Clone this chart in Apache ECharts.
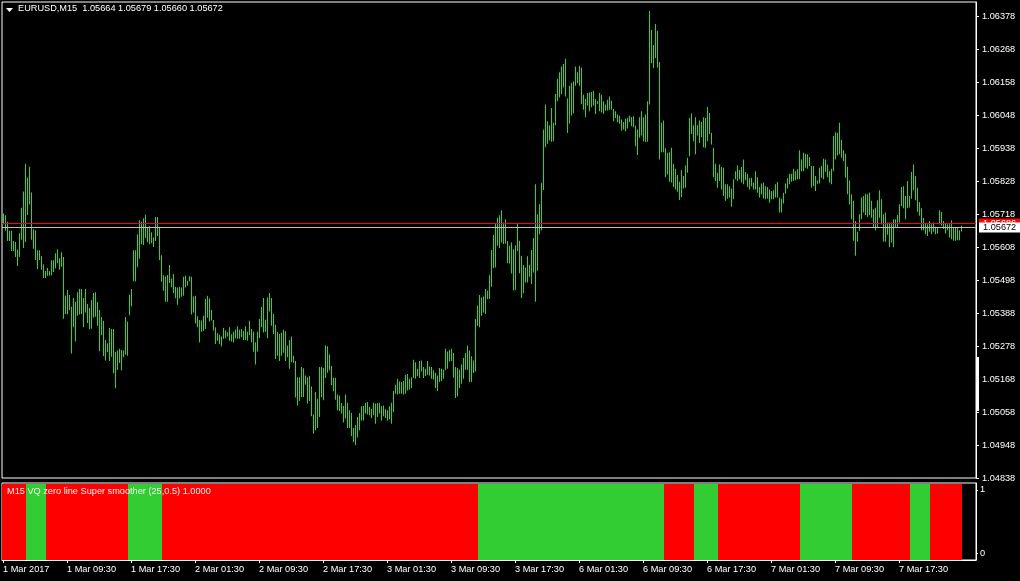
<!DOCTYPE html>
<html>
<head>
<meta charset="utf-8">
<title>EURUSD,M15</title>
<script src="https://cdn.jsdelivr.net/npm/echarts@6/dist/echarts.min.js"></script>
<style>
  html, body { margin: 0; padding: 0; background: #000; }
  #chart { width: 1020px; height: 581px; }
</style>
</head>
<body>
<div id="chart"></div>
<script>
// EURUSD M15 bars, 1 Mar 2017 01:30 onwards (high / low of each bar)
const highs = [
  1.05720, 1.05714, 1.05692, 1.05662, 1.05662, 1.05628, 1.05625, 1.05599, 1.05654, 1.05739,
  1.05793, 1.05886, 1.05840, 1.05876, 1.05790, 1.05667, 1.05664, 1.05597, 1.05597, 1.05577,
  1.05551, 1.05528, 1.05538, 1.05528, 1.05564, 1.05564, 1.05587, 1.05601, 1.05571, 1.05591,
  1.05575, 1.05446, 1.05465, 1.05449, 1.05409, 1.05438, 1.05426, 1.05457, 1.05468, 1.05468,
  1.05438, 1.05468, 1.05418, 1.05405, 1.05431, 1.05455, 1.05457, 1.05425, 1.05398, 1.05375,
  1.05362, 1.05298, 1.05287, 1.05338, 1.05335, 1.05335, 1.05259, 1.05263, 1.05269, 1.05265,
  1.05263, 1.05375, 1.05360, 1.05449, 1.05468, 1.05597, 1.05597, 1.05651, 1.05697, 1.05692,
  1.05704, 1.05716, 1.05672, 1.05677, 1.05657, 1.05640, 1.05708, 1.05708, 1.05676, 1.05581,
  1.05514, 1.05510, 1.05515, 1.05548, 1.05503, 1.05518, 1.05476, 1.05473, 1.05476, 1.05473,
  1.05509, 1.05512, 1.05496, 1.05511, 1.05509, 1.05443, 1.05446, 1.05377, 1.05365, 1.05363,
  1.05379, 1.05435, 1.05446, 1.05437, 1.05398, 1.05365, 1.05341, 1.05321, 1.05316, 1.05310,
  1.05338, 1.05330, 1.05324, 1.05341, 1.05317, 1.05326, 1.05333, 1.05344, 1.05332, 1.05335,
  1.05328, 1.05344, 1.05326, 1.05362, 1.05335, 1.05326, 1.05291, 1.05326, 1.05368, 1.05408,
  1.05438, 1.05366, 1.05440, 1.05455, 1.05438, 1.05385, 1.05349, 1.05326, 1.05318, 1.05322,
  1.05332, 1.05327, 1.05280, 1.05298, 1.05310, 1.05246, 1.05228, 1.05174, 1.05174, 1.05208,
  1.05204, 1.05180, 1.05174, 1.05178, 1.05143, 1.05050, 1.05125, 1.05102, 1.05208, 1.05208,
  1.05205, 1.05280, 1.05277, 1.05250, 1.05211, 1.05172, 1.05172, 1.05116, 1.05113, 1.05088,
  1.05078, 1.05116, 1.05089, 1.05064, 1.05055, 1.05005, 1.05014, 1.05041, 1.05055, 1.05077,
  1.05078, 1.05089, 1.05091, 1.05075, 1.05069, 1.05089, 1.05086, 1.05088, 1.05089, 1.05077,
  1.05080, 1.05067, 1.05064, 1.05077, 1.05089, 1.05128, 1.05149, 1.05169, 1.05160, 1.05158,
  1.05161, 1.05182, 1.05185, 1.05169, 1.05174, 1.05232, 1.05224, 1.05202, 1.05228, 1.05230,
  1.05208, 1.05202, 1.05228, 1.05210, 1.05208, 1.05197, 1.05189, 1.05180, 1.05205, 1.05202,
  1.05200, 1.05269, 1.05260, 1.05265, 1.05269, 1.05255, 1.05208, 1.05205, 1.05199, 1.05216,
  1.05238, 1.05255, 1.05280, 1.05263, 1.05244, 1.05230, 1.05368, 1.05412, 1.05448, 1.05440,
  1.05443, 1.05468, 1.05462, 1.05514, 1.05598, 1.05648, 1.05687, 1.05706, 1.05714, 1.05731,
  1.05690, 1.05701, 1.05628, 1.05612, 1.05623, 1.05601, 1.05614, 1.05687, 1.05629, 1.05579,
  1.05548, 1.05540, 1.05577, 1.05549, 1.05598, 1.05638, 1.05817, 1.05717, 1.05751, 1.05822,
  1.06000, 1.06083, 1.06027, 1.06014, 1.06072, 1.06022, 1.06118, 1.06169, 1.06191, 1.06210,
  1.06218, 1.06236, 1.06103, 1.06146, 1.06155, 1.06160, 1.06210, 1.06191, 1.06212, 1.06207,
  1.06116, 1.06102, 1.06122, 1.06124, 1.06125, 1.06129, 1.06102, 1.06094, 1.06122, 1.06116,
  1.06094, 1.06083, 1.06099, 1.06110, 1.06096, 1.06068, 1.06061, 1.06050, 1.06046, 1.06033,
  1.06025, 1.06036, 1.06038, 1.06046, 1.06041, 1.06044, 1.06013, 1.06000, 1.06041, 1.06061,
  1.06041, 1.06050, 1.06094, 1.06395, 1.06332, 1.06282, 1.06352, 1.06329, 1.06225, 1.06022,
  1.06030, 1.05937, 1.05922, 1.05924, 1.05939, 1.05886, 1.05869, 1.05848, 1.05826, 1.05865,
  1.05845, 1.05880, 1.05906, 1.06038, 1.06053, 1.06014, 1.06041, 1.06014, 1.06030, 1.06025,
  1.06041, 1.06038, 1.06075, 1.06055, 1.05989, 1.05939, 1.05886, 1.05856, 1.05883, 1.05875,
  1.05872, 1.05817, 1.05817, 1.05811, 1.05803, 1.05834, 1.05861, 1.05880, 1.05865, 1.05875,
  1.05900, 1.05858, 1.05852, 1.05837, 1.05839, 1.05823, 1.05861, 1.05841, 1.05808, 1.05820,
  1.05823, 1.05811, 1.05808, 1.05800, 1.05795, 1.05797, 1.05817, 1.05825, 1.05773, 1.05769,
  1.05789, 1.05820, 1.05837, 1.05852, 1.05852, 1.05869, 1.05861, 1.05867, 1.05931, 1.05900,
  1.05922, 1.05919, 1.05917, 1.05908, 1.05878, 1.05878, 1.05845, 1.05830, 1.05872, 1.05878,
  1.05902, 1.05900, 1.05883, 1.05861, 1.05869, 1.05978, 1.05991, 1.05989, 1.06022, 1.05966,
  1.05931, 1.05919, 1.05876, 1.05830, 1.05784, 1.05762, 1.05695, 1.05659, 1.05717, 1.05773,
  1.05778, 1.05786, 1.05784, 1.05789, 1.05762, 1.05734, 1.05739, 1.05764, 1.05797, 1.05767,
  1.05717, 1.05723, 1.05690, 1.05690, 1.05690, 1.05701, 1.05701, 1.05715, 1.05751, 1.05808,
  1.05811, 1.05778, 1.05828, 1.05778, 1.05858, 1.05883, 1.05845, 1.05806, 1.05758, 1.05737,
  1.05706, 1.05687, 1.05684, 1.05695, 1.05684, 1.05690, 1.05676, 1.05675, 1.05731, 1.05725,
  1.05695, 1.05686, 1.05684, 1.05684, 1.05697, 1.05675, 1.05675, 1.05673, 1.05664, 1.05679
];
const lows = [
  1.05684, 1.05662, 1.05628, 1.05628, 1.05595, 1.05595, 1.05575, 1.05545, 1.05575, 1.05632,
  1.05605, 1.05625, 1.05715, 1.05750, 1.05632, 1.05602, 1.05565, 1.05535, 1.05565, 1.05532,
  1.05505, 1.05505, 1.05512, 1.05512, 1.05514, 1.05525, 1.05537, 1.05554, 1.05532, 1.05542,
  1.05369, 1.05385, 1.05383, 1.05398, 1.05253, 1.05341, 1.05293, 1.05379, 1.05383, 1.05385,
  1.05341, 1.05390, 1.05355, 1.05334, 1.05336, 1.05372, 1.05376, 1.05346, 1.05261, 1.05314,
  1.05245, 1.05230, 1.05257, 1.05228, 1.05242, 1.05187, 1.05137, 1.05198, 1.05221, 1.05197,
  1.05241, 1.05249, 1.05246, 1.05381, 1.05411, 1.05494, 1.05493, 1.05541, 1.05569, 1.05617,
  1.05615, 1.05638, 1.05624, 1.05617, 1.05621, 1.05608, 1.05628, 1.05645, 1.05565, 1.05492,
  1.05462, 1.05426, 1.05426, 1.05488, 1.05474, 1.05455, 1.05437, 1.05416, 1.05437, 1.05442,
  1.05446, 1.05473, 1.05479, 1.05493, 1.05383, 1.05390, 1.05353, 1.05341, 1.05290, 1.05326,
  1.05328, 1.05335, 1.05372, 1.05360, 1.05363, 1.05330, 1.05285, 1.05296, 1.05285, 1.05277,
  1.05302, 1.05304, 1.05310, 1.05296, 1.05293, 1.05290, 1.05304, 1.05302, 1.05302, 1.05307,
  1.05298, 1.05298, 1.05296, 1.05315, 1.05291, 1.05259, 1.05216, 1.05260, 1.05305, 1.05341,
  1.05323, 1.05326, 1.05304, 1.05393, 1.05346, 1.05318, 1.05235, 1.05246, 1.05228, 1.05246,
  1.05256, 1.05228, 1.05241, 1.05202, 1.05224, 1.05222, 1.05106, 1.05080, 1.05095, 1.05108,
  1.05108, 1.05149, 1.05086, 1.05095, 1.05044, 1.04986, 1.04997, 1.05005, 1.05041, 1.05108,
  1.05097, 1.05171, 1.05189, 1.05197, 1.05147, 1.05127, 1.05099, 1.05064, 1.05061, 1.05053,
  1.05023, 1.05036, 1.05005, 1.05005, 1.04978, 1.04958, 1.04947, 1.04973, 1.04997, 1.05030,
  1.05030, 1.05053, 1.05050, 1.05047, 1.05038, 1.05047, 1.05019, 1.05041, 1.05053, 1.05030,
  1.05044, 1.05038, 1.05030, 1.05034, 1.05019, 1.05058, 1.05119, 1.05116, 1.05119, 1.05119,
  1.05116, 1.05119, 1.05130, 1.05133, 1.05138, 1.05171, 1.05169, 1.05177, 1.05171, 1.05193,
  1.05171, 1.05178, 1.05182, 1.05180, 1.05169, 1.05166, 1.05138, 1.05128, 1.05158, 1.05161,
  1.05169, 1.05197, 1.05202, 1.05226, 1.05228, 1.05172, 1.05105, 1.05110, 1.05138, 1.05152,
  1.05169, 1.05199, 1.05199, 1.05158, 1.05158, 1.05188, 1.05193, 1.05346, 1.05341, 1.05379,
  1.05390, 1.05385, 1.05435, 1.05435, 1.05476, 1.05538, 1.05540, 1.05612, 1.05604, 1.05623,
  1.05618, 1.05620, 1.05554, 1.05553, 1.05520, 1.05463, 1.05465, 1.05595, 1.05521, 1.05438,
  1.05454, 1.05490, 1.05490, 1.05509, 1.05485, 1.05523, 1.05426, 1.05529, 1.05651, 1.05664,
  1.05798, 1.05941, 1.05952, 1.05963, 1.05959, 1.05961, 1.06014, 1.06094, 1.06107, 1.06118,
  1.06140, 1.06110, 1.05988, 1.06020, 1.06047, 1.06053, 1.06146, 1.06155, 1.06146, 1.06085,
  1.06066, 1.06041, 1.06080, 1.06061, 1.06074, 1.06080, 1.06052, 1.06085, 1.06061, 1.06057,
  1.06052, 1.06063, 1.06063, 1.06066, 1.06066, 1.06027, 1.06038, 1.06024, 1.06019, 1.05996,
  1.06000, 1.05994, 1.06003, 1.06025, 1.06011, 1.06007, 1.05944, 1.05915, 1.05972, 1.05980,
  1.05961, 1.05958, 1.05959, 1.06083, 1.06221, 1.06205, 1.06238, 1.06207, 1.05900, 1.05924,
  1.05924, 1.05841, 1.05850, 1.05826, 1.05823, 1.05808, 1.05800, 1.05792, 1.05765, 1.05775,
  1.05803, 1.05806, 1.05856, 1.05911, 1.05985, 1.05961, 1.05917, 1.05980, 1.05955, 1.05974,
  1.05941, 1.05939, 1.05961, 1.05985, 1.05950, 1.05841, 1.05828, 1.05806, 1.05828, 1.05800,
  1.05778, 1.05762, 1.05769, 1.05773, 1.05742, 1.05767, 1.05834, 1.05828, 1.05834, 1.05823,
  1.05817, 1.05831, 1.05808, 1.05800, 1.05811, 1.05800, 1.05800, 1.05789, 1.05773, 1.05784,
  1.05770, 1.05767, 1.05770, 1.05756, 1.05767, 1.05767, 1.05773, 1.05773, 1.05723, 1.05723,
  1.05753, 1.05786, 1.05803, 1.05817, 1.05826, 1.05828, 1.05831, 1.05834, 1.05834, 1.05861,
  1.05861, 1.05872, 1.05869, 1.05878, 1.05806, 1.05811, 1.05795, 1.05819, 1.05820, 1.05839,
  1.05834, 1.05859, 1.05841, 1.05823, 1.05817, 1.05861, 1.05900, 1.05913, 1.05917, 1.05906,
  1.05894, 1.05839, 1.05784, 1.05751, 1.05701, 1.05629, 1.05579, 1.05626, 1.05662, 1.05701,
  1.05723, 1.05715, 1.05708, 1.05714, 1.05706, 1.05675, 1.05664, 1.05675, 1.05706, 1.05684,
  1.05626, 1.05626, 1.05649, 1.05607, 1.05623, 1.05607, 1.05673, 1.05673, 1.05690, 1.05745,
  1.05737, 1.05701, 1.05737, 1.05740, 1.05769, 1.05797, 1.05764, 1.05726, 1.05712, 1.05664,
  1.05664, 1.05651, 1.05645, 1.05659, 1.05651, 1.05659, 1.05651, 1.05653, 1.05684, 1.05679,
  1.05668, 1.05653, 1.05664, 1.05640, 1.05634, 1.05629, 1.05629, 1.05631, 1.05631, 1.05660
];

// last bar O H L C shown in the header, bid / ask lines
const lastOHLC = [1.05664, 1.05679, 1.05660, 1.05672];
const bidPrice = 1.05672;
const askPrice = 1.05686;

// price scale
const priceMin = 1.04838;
const priceMax = 1.06425;
const priceTicks = [
  1.04838, 1.04948, 1.05058, 1.05168, 1.05278, 1.05388, 1.05498, 1.05608,
  1.05718, 1.05828, 1.05938, 1.06048, 1.06158, 1.06268, 1.06378
];

// time axis: one label every 32 bars (8 hours)
const barsPerLabel = 32;
const timeLabels = [
  '1 Mar 2017', '1 Mar 09:30', '1 Mar 17:30', '2 Mar 01:30', '2 Mar 09:30',
  '2 Mar 17:30', '3 Mar 01:30', '3 Mar 09:30', '3 Mar 17:30', '6 Mar 01:30',
  '6 Mar 09:30', '6 Mar 17:30', '7 Mar 01:30', '7 Mar 09:30', '7 Mar 17:30'
];
const shiftBars = 7; // empty slots right of the last bar

// VQ zero line indicator: run lengths of bars, 1 = up (green), 0 = down (red)
const vqRunLen = [12, 10, 41, 17, 158, 93, 15, 12, 41, 26, 29, 10, 16];
const vqRunUp = [0, 1, 0, 1, 0, 1, 0, 1, 0, 1, 0, 1, 0];
const vqTicks = [0, 1];

const white = '#ffffff';
const barColor = '#22dd22';
const upColor = '#32cd32';
const downColor = '#ff0000';
const font = 'Liberation Sans';
const fontSize = 9.2;
// ask line first, bid line drawn over it
const priceLineColors = ['#ff0000', '#c0c0c0'];
const priceTagColors = ['#ff0000', white];
const priceTagText = [white, '#000000'];

const slots = Array.from({ length: highs.length + shiftBars }, (_, i) => i);
const barData = highs.map((h, i) => [i, h, lows[i]]);
const vqData = [];
vqRunLen.forEach((n, k) => {
  for (let j = 0; j < n; j++) vqData.push([vqData.length, vqRunUp[k]]);
});

const showTime = (i) => i % barsPerLabel === 0 && i / barsPerLabel < timeLabels.length;

const chart = echarts.init(document.getElementById('chart'));
chart.setOption({
  backgroundColor: '#000000',
  animation: false,
  grid: [
    { left: 2, right: 44, top: 2, height: 476, show: true, borderColor: white, borderWidth: 1 },
    { left: 2, right: 44, top: 483, height: 77, show: true, borderColor: white, borderWidth: 1 }
  ],
  xAxis: [
    { type: 'category', gridIndex: 0, data: slots, boundaryGap: true, show: false },
    {
      type: 'category', gridIndex: 1, data: slots, boundaryGap: true,
      axisLine: { show: true, onZero: false, lineStyle: { color: white } },
      axisTick: { show: true, length: 3, alignWithLabel: true, interval: showTime, lineStyle: { color: white } },
      axisLabel: {
        color: white, fontFamily: font, fontSize: fontSize, margin: 5, align: 'left',
        interval: showTime,
        formatter: (v, i) => timeLabels[i / barsPerLabel] || ''
      },
      splitLine: { show: false }
    }
  ],
  yAxis: [
    {
      type: 'value', gridIndex: 0, position: 'right', min: priceMin, max: priceMax,
      splitLine: { show: false },
      axisLine: { show: true, lineStyle: { color: white } },
      axisTick: { show: true, length: 3, customValues: priceTicks, lineStyle: { color: white } },
      axisLabel: {
        color: white, fontFamily: font, fontSize: fontSize, margin: 6,
        customValues: priceTicks, formatter: (v) => v.toFixed(5)
      }
    },
    {
      type: 'value', gridIndex: 1, position: 'right', min: -0.11, max: 1.11,
      splitLine: { show: false },
      axisLine: { show: true, lineStyle: { color: white } },
      axisTick: { show: true, length: 2, customValues: vqTicks, lineStyle: { color: white } },
      axisLabel: {
        color: white, fontFamily: font, fontSize: fontSize, margin: 4,
        customValues: vqTicks, formatter: (v) => String(v)
      }
    }
  ],
  series: [
    {
      name: 'EURUSD', type: 'custom', xAxisIndex: 0, yAxisIndex: 0,
      data: barData, encode: { x: 0, y: [1, 2] }, clip: true,
      renderItem: (params, api) => {
        const hi = api.coord([api.value(0), api.value(1)]);
        const lo = api.coord([api.value(0), api.value(2)]);
        return {
          type: 'rect',
          shape: { x: Math.round(hi[0]), y: hi[1], width: 1, height: Math.max(1, lo[1] - hi[1]) },
          style: { fill: barColor }
        };
      }
    },
    {
      // ask and bid lines with their tags on the price scale
      name: 'Ask/Bid', type: 'custom', xAxisIndex: 0, yAxisIndex: 0, clip: false, z: 5,
      data: [[0, askPrice], [0, bidPrice]], encode: { x: 0, y: 1 },
      renderItem: (params, api) => {
        const cs = params.coordSys;
        const k = params.dataIndex;
        const y = Math.round(api.coord([0, api.value(1)])[1] - 0.5) + 0.5;
        return {
          type: 'group',
          children: [
            {
              type: 'line',
              shape: { x1: cs.x, y1: y, x2: cs.x + cs.width, y2: y },
              style: { stroke: priceLineColors[k], lineWidth: 1 }
            },
            {
              type: 'text', x: cs.x + cs.width + 3, y: y,
              style: {
                text: api.value(1).toFixed(5), fill: priceTagText[k],
                backgroundColor: priceTagColors[k], padding: [1, 4, 0, 4],
                font: fontSize + 'px "' + font + '"', verticalAlign: 'middle', align: 'left'
              }
            }
          ]
        };
      }
    },
    {
      name: 'VQ', type: 'custom', xAxisIndex: 1, yAxisIndex: 1,
      data: vqData, encode: { x: 0, y: 1 },
      renderItem: (params, api) => {
        const c = api.coord([api.value(0), 0]);
        const w = api.size([1, 0])[0];
        const cs = params.coordSys;
        return {
          type: 'rect',
          shape: { x: c[0] - w / 2, y: cs.y + 1, width: w, height: cs.height - 1 },
          style: { fill: api.value(1) ? upColor : downColor }
        };
      }
    }
  ],
  graphic: [
    { type: 'polygon', shape: { points: [[6, 8], [13, 8], [9.5, 12]] }, style: { fill: white } },
    {
      type: 'text', left: 18, top: 4,
      style: {
        text: 'EURUSD,M15  ' + lastOHLC.map((v) => v.toFixed(5)).join(' '),
        fill: white, font: fontSize + 'px "' + font + '"'
      }
    },
    {
      type: 'text', left: 7, top: 487, z: 10,
      style: {
        text: 'M15 VQ zero line Super smoother (25,0.5) 1.0000',
        fill: '#f4f4f4', font: fontSize + 'px "' + font + '"'
      }
    },
    { type: 'rect', shape: { x: 976, y: 357, width: 3, height: 54 }, style: { fill: white }, z: 10 }
  ]
});
</script>
</body>
</html>
